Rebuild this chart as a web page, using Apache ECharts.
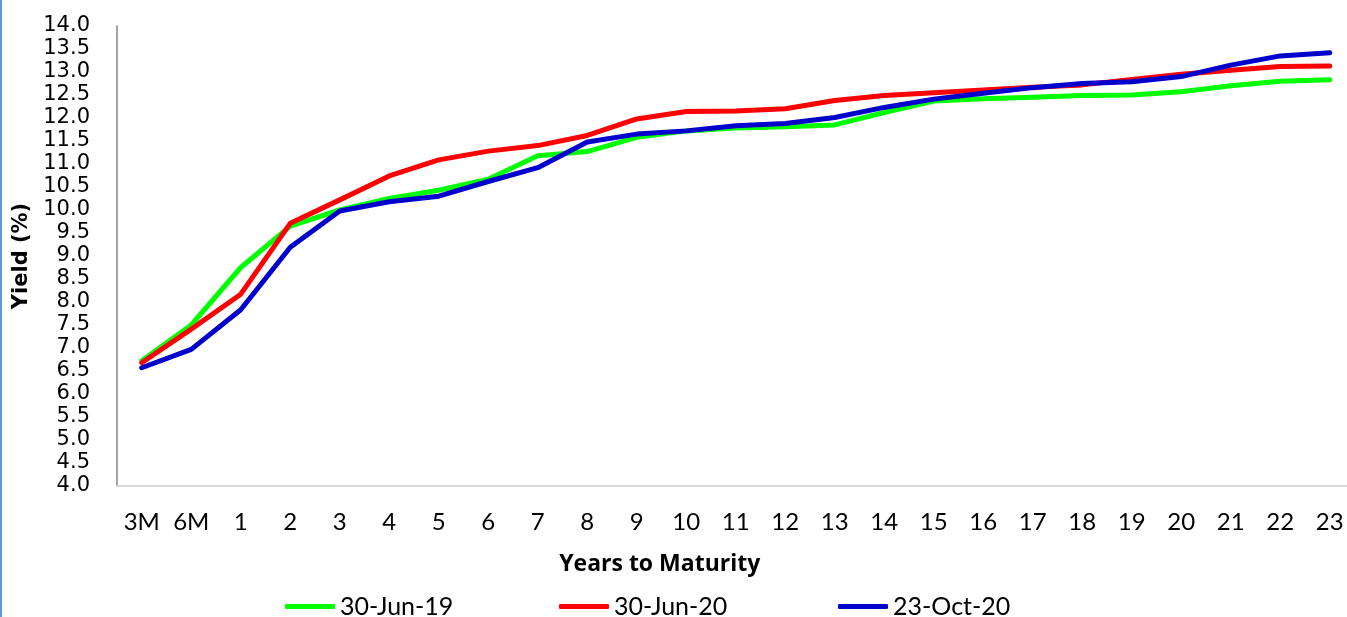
<!DOCTYPE html>
<html>
<head>
<meta charset="utf-8">
<title>Yield Curve</title>
<script src="https://cdn.jsdelivr.net/npm/echarts@6/dist/echarts.min.js"></script>
<style>
  html, body { margin: 0; padding: 0; background: #fff; overflow: hidden; }
  /* chart is a bit wider than the window so the plot area can run past the right edge */
  #chart { width: 1360px; height: 617px; }
  #edge { position: absolute; left: 0; top: 0; width: 2px; height: 617px; background: #5b9bd5; }
</style>
</head>
<body>
<div id="chart"></div>
<div id="edge"></div>
<script>
const maturities = ["3M", "6M", "1", "2", "3", "4", "5", "6", "7", "8", "9", "10",
  "11", "12", "13", "14", "15", "16", "17", "18", "19", "20", "21", "22", "23"];

const jun19 = [6.72, 7.5, 8.75, 9.65, 10.0, 10.25, 10.43, 10.67, 11.18, 11.27, 11.58, 11.72,
  11.78, 11.81, 11.85, 12.12, 12.37, 12.42, 12.45, 12.49, 12.5, 12.57, 12.7, 12.8, 12.83];
const jun20 = [6.68, 7.41, 8.17, 9.71, 10.22, 10.74, 11.09, 11.28, 11.4, 11.62, 11.98, 12.14,
  12.15, 12.2, 12.38, 12.49, 12.55, 12.61, 12.67, 12.72, 12.84, 12.95, 13.04, 13.12, 13.13];
const oct20 = [6.57, 6.97, 7.83, 9.19, 9.98, 10.18, 10.3, 10.62, 10.92, 11.48, 11.65, 11.72,
  11.83, 11.88, 12.01, 12.23, 12.41, 12.54, 12.66, 12.75, 12.79, 12.9, 13.15, 13.35, 13.42];

const seriesNames = ["30-Jun-19", "30-Jun-20", "23-Oct-20"];
const seriesColors = ["#00ff00", "#ff0000", "#0000cc"];

const chart = echarts.init(document.getElementById("chart"));

const labelFont = "Lato, 'Noto Sans', sans-serif";
const legendLefts = [285, 559, 838];

const makeLine = (name, data, color) => ({
  name,
  type: "line",
  data,
  showSymbol: false,
  symbol: "none",
  lineStyle: { color, width: 5, cap: "round", join: "round" },
  itemStyle: { color },
});

const option = {
  animation: false,
  grid: { left: 117, width: 1237.5, top: 26, bottom: 131, containLabel: false },
  legend: seriesNames.map((name, i) => ({
    data: [name],
    left: legendLefts[i],
    top: 594,
    padding: 0,
    icon: "roundRect",
    itemWidth: 50,
    itemHeight: 5,
    itemGap: 0,
    textStyle: { fontFamily: labelFont, fontSize: 25, color: "#000" },
  })),
  xAxis: {
    type: "category",
    data: maturities,
    boundaryGap: true,
    name: "Years to Maturity",
    nameLocation: "middle",
    nameGap: 67,
    nameTextStyle: {
      fontFamily: "'Open Sans', sans-serif", fontWeight: "bold", fontSize: 23, color: "#000",
      padding: [0, 152, 0, 0],
    },
    axisLine: { lineStyle: { color: "#d9d9d9", width: 2 } },
    axisTick: { show: false },
    axisLabel: { fontFamily: labelFont, fontSize: 24, color: "#000", margin: 24, interval: 0 },
    splitLine: { show: false },
  },
  yAxis: {
    type: "value",
    min: 4,
    max: 14,
    interval: 0.5,
    name: "Yield (%)",
    nameLocation: "middle",
    nameGap: 80,
    nameTextStyle: {
      fontFamily: "'DejaVu Sans', sans-serif", fontWeight: "bold", fontSize: 21, color: "#000",
    },
    axisLine: { show: true, lineStyle: { color: "#868686", width: 1.5 } },
    axisTick: { show: false },
    axisLabel: {
      fontFamily: "'DejaVu Sans', sans-serif", fontSize: 21, color: "#000", margin: 27,
      formatter: (v) => v.toFixed(1),
    },
    splitLine: { show: false },
  },
  series: [
    makeLine(seriesNames[0], jun19, seriesColors[0]),
    makeLine(seriesNames[1], jun20, seriesColors[1]),
    makeLine(seriesNames[2], oct20, seriesColors[2]),
  ],
};

chart.setOption(option);
window.addEventListener("resize", () => chart.resize());
</script>
</body>
</html>
